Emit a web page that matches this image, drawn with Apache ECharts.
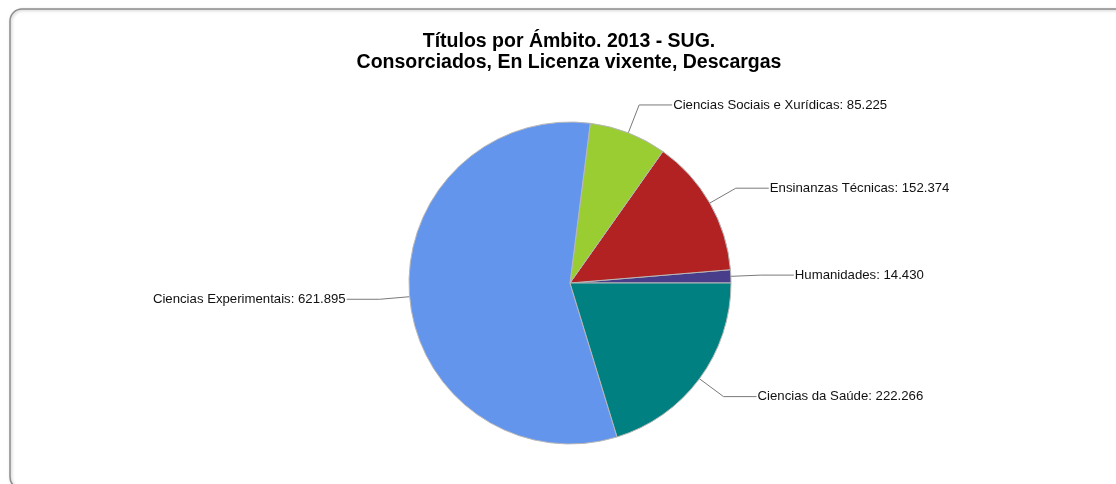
<!DOCTYPE html>
<html>
<head>
<meta charset="utf-8">
<script src="https://cdn.jsdelivr.net/npm/echarts@6/dist/echarts.min.js"></script>
<style>
html,body{margin:0;padding:0;background:#fff;overflow:hidden;}
#chart{width:1116px;height:484px;}
</style>
</head>
<body>
<div id="chart"></div>
<script>
const titleLines = ['Títulos por Ámbito. 2013 - SUG.', 'Consorciados, En Licenza vixente, Descargas'];
const categories = ['Humanidades', 'Ensinanzas Técnicas', 'Ciencias Sociais e Xurídicas', 'Ciencias Experimentais', 'Ciencias da Saúde'];
const values = [14430, 152374, 85225, 621895, 222266];
const colors = ['#483D8B', '#B22222', '#9ACD32', '#6495ED', '#008080'];

function fmt(v) {
  return String(v).replace(/\B(?=(\d{3})+(?!\d))/g, '.');
}

const chart = echarts.init(document.getElementById('chart'), null, {renderer: 'canvas'});
chart.setOption({
  backgroundColor: '#fff',
  animation: false,
  graphic: [{
    type: 'rect',
    shape: {x: 10, y: 9, width: 1130, height: 480, r: 12},
    style: {fill: 'none', stroke: '#8c8c8c', lineWidth: 1.5, shadowColor: 'rgba(0,0,0,0.25)', shadowBlur: 3, shadowOffsetX: 1, shadowOffsetY: 1},
    z: -1
  }, {
    type: 'text',
    x: 569,
    y: 31,
    style: {
      text: titleLines.join('\n'),
      align: 'center',
      verticalAlign: 'top',
      font: 'bold 19.5px "Liberation Sans", Arial, sans-serif',
      fill: '#000',
      lineHeight: 21
    }
  }],
  series: [{
    type: 'pie',
    center: [570, 283],
    radius: 161,
    startAngle: 0,
    clockwise: false,
    avoidLabelOverlap: false,
    data: categories.map((c, i) => ({name: c, value: values[i], itemStyle: {color: colors[i]}})),
    itemStyle: {borderColor: '#b8b8b8', borderWidth: 1},
    label: {
      show: true,
      formatter: p => p.name + ': ' + fmt(p.value),
      fontFamily: 'Liberation Sans, Arial, sans-serif',
      fontSize: 13.2,
      color: '#111',
      distanceToLabelLine: 1
    },
    labelLine: {show: true, length: 30, length2: 33, lineStyle: {color: '#7a7a7a', width: 1}},
    emphasis: {disabled: true}
  }]
});
</script>
</body>
</html>
